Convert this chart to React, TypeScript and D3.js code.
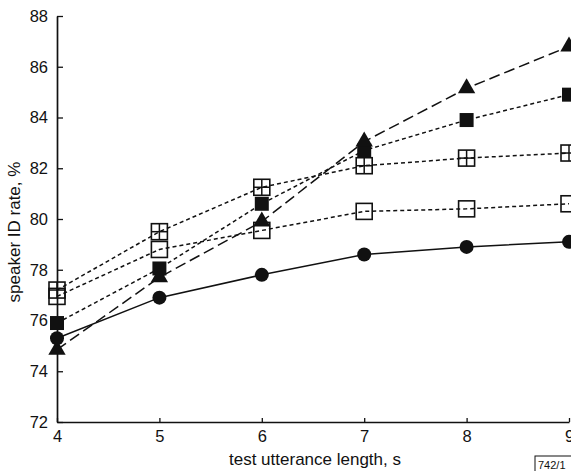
import React, { useEffect, useRef } from "react";
import * as d3 from "d3";

const lengths = [4, 5, 6, 7, 8, 9];
const circleRates = [75.3, 76.9, 77.8, 78.6, 78.9, 79.1];
const triangleRates = [74.85, 77.7, 79.9, 83.05, 85.15, 86.8];
const filledSquareRates = [75.9, 78.05, 80.6, 82.7, 83.9, 84.9];
const crossSquareRates = [77.2, 79.5, 81.25, 82.1, 82.4, 82.6];
const openSquareRates = [76.95, 78.8, 79.55, 80.3, 80.4, 80.6];
const yTicks = [72, 74, 76, 78, 80, 82, 84, 86, 88];
const xTicks = [4, 5, 6, 7, 8, 9];

const W = 571;
const H = 471;

export default function App() {
  const ref = useRef<SVGSVGElement>(null);

  useEffect(() => {
    const svg = d3.select(ref.current);
    svg.selectAll("*").remove();

    const x = d3.scaleLinear().domain([4, 9]).range([57, 569]);
    const y = d3.scaleLinear().domain([72, 88]).range([422, 16]);
    const font = "'Liberation Sans', Arial, sans-serif";

    // axes, ticks point inward
    const yAxis = svg.append("g").attr("transform", `translate(${x(4)},0)`)
      .call(d3.axisLeft(y).tickValues(yTicks).tickSizeInner(-6).tickSizeOuter(0).tickPadding(9).tickFormat(d3.format("d")));
    const xAxis = svg.append("g").attr("transform", `translate(0,${y(72)})`)
      .call(d3.axisBottom(x).tickValues(xTicks).tickSizeInner(-4).tickSizeOuter(0).tickPadding(8).tickFormat(d3.format("d")));
    [yAxis, xAxis].forEach((g) => {
      g.select(".domain").attr("stroke", "#111").attr("stroke-width", 1.7);
      g.selectAll(".tick line").attr("stroke", "#111").attr("stroke-width", 1.3);
      g.selectAll(".tick text").attr("font-family", font).attr("font-size", 16.5).attr("fill", "#111");
    });

    svg.append("text")
      .attr("x", 315).attr("y", 465)
      .attr("text-anchor", "middle")
      .attr("font-family", font).attr("font-size", 17).attr("fill", "#111")
      .text("test utterance length, s");

    svg.append("text")
      .attr("transform", "translate(20,232) rotate(-90)")
      .attr("text-anchor", "middle")
      .attr("font-family", font).attr("font-size", 17).attr("fill", "#111")
      .text("speaker ID rate, %");

    // figure number box in corner
    svg.append("rect").attr("x", 535).attr("y", 456).attr("width", 40).attr("height", 16)
      .attr("fill", "none").attr("stroke", "#111").attr("stroke-width", 1);
    svg.append("text").attr("x", 538).attr("y", 469)
      .attr("font-family", font).attr("font-size", 11).attr("fill", "#111")
      .text("742/1");

    const series = [
      { vals: openSquareRates, dash: "4,3", marker: "open" },
      { vals: crossSquareRates, dash: "4,3", marker: "cross" },
      { vals: filledSquareRates, dash: "4,3", marker: "square" },
      { vals: triangleRates, dash: "11,5", marker: "triangle" },
      { vals: circleRates, dash: null, marker: "circle" },
    ];

    const line = d3.line<number>().x((_, i) => x(lengths[i])).y((d) => y(d));

    series.forEach((s) => {
      svg.append("path")
        .attr("d", line(s.vals))
        .attr("fill", "none")
        .attr("stroke", "#111")
        .attr("stroke-width", 1.5)
        .attr("stroke-dasharray", s.dash);
    });

    series.forEach((s) => {
      const g = svg.append("g");
      s.vals.forEach((v, i) => {
        const cx = x(lengths[i]);
        const cy = y(v);
        if (s.marker === "circle") {
          g.append("circle").attr("cx", cx).attr("cy", cy).attr("r", 7).attr("fill", "#111");
        } else if (s.marker === "triangle") {
          g.append("path")
            .attr("transform", `translate(${cx},${cy})`)
            .attr("d", d3.symbol().type(d3.symbolTriangle).size(130)())
            .attr("fill", "#111");
        } else if (s.marker === "square") {
          g.append("rect").attr("x", cx - 7).attr("y", cy - 7).attr("width", 14).attr("height", 14).attr("fill", "#111");
        } else {
          g.append("rect").attr("x", cx - 8).attr("y", cy - 8).attr("width", 16).attr("height", 16)
            .attr("fill", "none").attr("stroke", "#111").attr("stroke-width", 1.6);
          if (s.marker === "cross") {
            g.append("line").attr("x1", cx).attr("x2", cx).attr("y1", cy - 8).attr("y2", cy + 8)
              .attr("stroke", "#111").attr("stroke-width", 1.5);
            g.append("line").attr("x1", cx - 8).attr("x2", cx + 8).attr("y1", cy).attr("y2", cy)
              .attr("stroke", "#111").attr("stroke-width", 1.5);
          }
        }
      });
    });
  }, []);

  return (
    <svg
      ref={ref}
      width={W}
      height={H}
      style={{ position: "fixed", left: 0, top: 0, background: "#fff" }}
    />
  );
}
